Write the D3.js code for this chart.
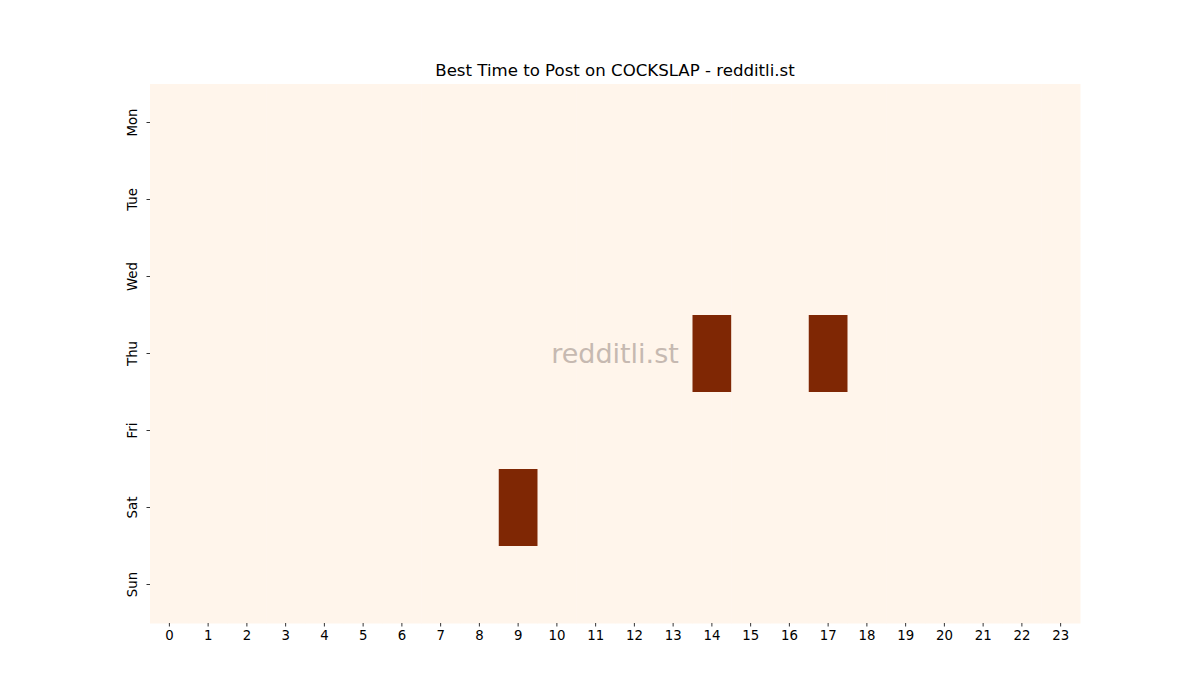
<!DOCTYPE html>
<html>
<head>
<meta charset="utf-8">
<script src="https://cdn.jsdelivr.net/npm/d3@7"></script>
<style>
  body { margin: 0; background: #fff; }
  text { font-family: "DejaVu Sans", sans-serif; }
</style>
</head>
<body>
<div id="chart"></div>
<script>
// rows / columns of the heatmap
var days = ["Mon", "Tue", "Wed", "Thu", "Fri", "Sat", "Sun"];
var hours = d3.range(0, 24);

// posts per day/hour (only three non-zero cells)
var monVals = [0,0,0,0,0,0,0,0,0,0,0,0,0,0,0,0,0,0,0,0,0,0,0,0];
var tueVals = [0,0,0,0,0,0,0,0,0,0,0,0,0,0,0,0,0,0,0,0,0,0,0,0];
var wedVals = [0,0,0,0,0,0,0,0,0,0,0,0,0,0,0,0,0,0,0,0,0,0,0,0];
var thuVals = [0,0,0,0,0,0,0,0,0,0,0,0,0,0,1,0,0,1,0,0,0,0,0,0];
var friVals = [0,0,0,0,0,0,0,0,0,0,0,0,0,0,0,0,0,0,0,0,0,0,0,0];
var satVals = [0,0,0,0,0,0,0,0,0,1,0,0,0,0,0,0,0,0,0,0,0,0,0,0];
var sunVals = [0,0,0,0,0,0,0,0,0,0,0,0,0,0,0,0,0,0,0,0,0,0,0,0];

var rows = [monVals, tueVals, wedVals, thuVals, friVals, satVals, sunVals];

var margin = {top: 84, right: 120, bottom: 77, left: 150},
    width = 1200 - margin.left - margin.right,
    height = 700 - margin.top - margin.bottom;

var svg = d3.select("#chart").append("svg")
    .attr("width", 1200)
    .attr("height", 700);

var g = svg.append("g")
    .attr("transform", "translate(" + margin.left + "," + margin.top + ")");

var x = d3.scaleBand().domain(hours).range([0, width]);
var y = d3.scaleBand().domain(days).range([0, height]);

var color = d3.scaleSequential(d3.interpolateOranges)
    .domain([0, d3.max(rows, function(r) { return d3.max(r); })]);

var cells = [];
rows.forEach(function(r, i) {
  r.forEach(function(v, j) { cells.push({day: days[i], hour: hours[j], value: v}); });
});

g.selectAll("rect")
  .data(cells)
  .enter().append("rect")
    .attr("x", function(d) { return x(d.hour); })
    .attr("y", function(d) { return y(d.day); })
    .attr("width", x.bandwidth() + 0.5)
    .attr("height", y.bandwidth() + 0.5)
    .attr("fill", function(d) { return color(d.value); });

// axes
var xAxis = g.append("g")
    .attr("transform", "translate(0," + height + ")")
    .call(d3.axisBottom(x).tickSize(3.5).tickPadding(4));
xAxis.select(".domain").remove();
xAxis.selectAll("text").attr("font-size", "13.3px").attr("fill", "#000")
    .style("font-family", "DejaVu Sans, sans-serif");
xAxis.selectAll("line").attr("stroke", "#000").attr("stroke-width", 0.8);

var yAxis = g.append("g")
    .call(d3.axisLeft(y).tickSize(3.5).tickPadding(4));
yAxis.select(".domain").remove();
yAxis.selectAll("line").attr("stroke", "#000").attr("stroke-width", 0.8);
yAxis.selectAll("text")
    .attr("font-size", "13.3px").attr("fill", "#000")
    .style("font-family", "DejaVu Sans, sans-serif")
    .attr("text-anchor", "middle")
    .attr("dy", "0")
    .attr("x", 0)
    .attr("transform", "translate(-13,0) rotate(-90)");

// watermark
g.append("text")
    .attr("x", 465)
    .attr("y", y("Thu") + y.bandwidth() / 2 + 9)
    .attr("text-anchor", "middle")
    .attr("font-size", "27px")
    .attr("fill", "#c6b9b1")
    .text("redditli.st");

// title
svg.append("text")
    .attr("x", margin.left + width / 2)
    .attr("y", 76)
    .attr("text-anchor", "middle")
    .attr("font-size", "16.6px")
    .attr("fill", "#000")
    .text("Best Time to Post on COCKSLAP - redditli.st");
</script>
</body>
</html>
